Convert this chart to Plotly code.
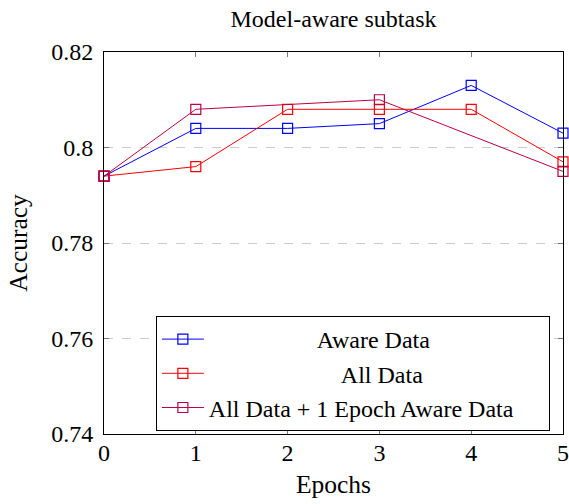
import plotly.graph_objects as go

epochs = [0, 1, 2, 3, 4, 5]
aware = [0.794, 0.804, 0.804, 0.805, 0.813, 0.803]
all_data = [0.794, 0.796, 0.808, 0.808, 0.808, 0.797]
combo_epochs = [0, 1, 3, 5]
combo = [0.794, 0.808, 0.810, 0.795]
y_ticks = [0.74, 0.76, 0.78, 0.80, 0.82]
y_ticktext = ["0.74", "0.76", "0.78", "0.8", "0.82"]
series_names = ["Aware Data", "All Data", "All Data + 1 Epoch Aware Data"]

FONT = "Liberation Serif"
NB = "\u00a0"

fig = go.Figure()

def add(x, y, name, color, pad, tail=0):
    fig.add_trace(go.Scatter(
        x=x, y=y, name=NB * pad + name + NB * tail, mode="lines+markers",
        line=dict(color=color, width=1),
        marker=dict(symbol="square-open", size=10, color=color, line=dict(width=1.2, color=color)),
        cliponaxis=False,
    ))

add(epochs, aware, series_names[0], "#0000ff", 18)
add(epochs, all_data, series_names[1], "#ff0000", 22)
add(combo_epochs, combo, series_names[2], "#bf0040", 0, 5)

fig.update_layout(
    width=569, height=504,
    margin=dict(l=104, r=6, t=52, b=70),
    paper_bgcolor="white", plot_bgcolor="white",
    font=dict(family=FONT, color="black"),
    title=dict(text="Model-aware subtask", x=(104 + 563) / 2 / 569, xanchor="center",
               y=1 - 19 / 504, yanchor="middle", font=dict(size=24, family=FONT)),
    showlegend=True,
    legend=dict(x=0.113, y=(434 - 316) / 382, xanchor="left", yanchor="top",
                bordercolor="black", borderwidth=1, bgcolor="white",
                font=dict(size=24, family=FONT), tracegroupgap=0, itemwidth=42),
    xaxis=dict(range=[0, 5], tickvals=epochs, ticks="inside", ticklen=5, tickcolor="#777",
               showline=True, linecolor="black", linewidth=1, mirror="allticks",
               showgrid=False, zeroline=False, automargin=False,
               tickfont=dict(size=24, family=FONT), ticklabelstandoff=-3,
               title=dict(text="Epochs", font=dict(size=25.5, family=FONT), standoff=10)),
    yaxis=dict(range=[0.74, 0.82], tickvals=y_ticks, ticktext=y_ticktext, ticks="inside",
               ticklen=5, tickcolor="#777",
               showline=True, linecolor="black", linewidth=1, mirror="allticks",
               showgrid=True, gridcolor="#cccccc", griddash="dash", gridwidth=1,
               zeroline=False, automargin=False,
               tickfont=dict(size=24, family=FONT), ticklabelstandoff=5,
               title=dict(text="Accuracy", font=dict(size=25.5, family=FONT), standoff=16)),
)

fig.write_html("out.html")
